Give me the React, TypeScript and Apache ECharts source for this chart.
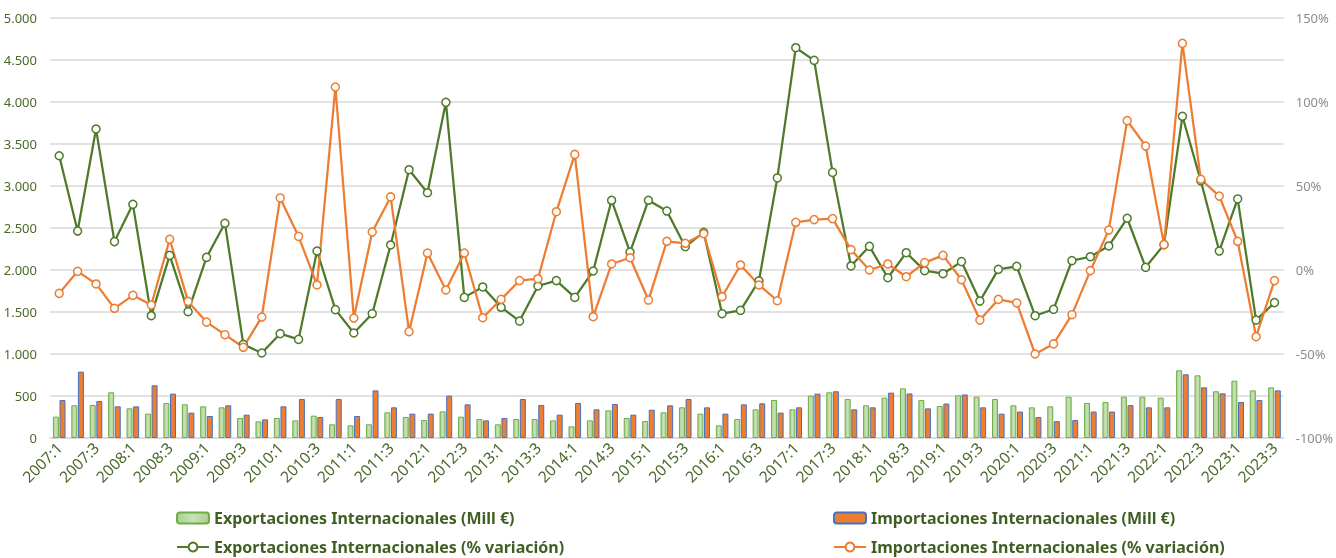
import React, { useEffect, useRef } from "react";
import * as echarts from "echarts";

const categories: string[] = [];
for (let y = 2007; y <= 2023; y++) {
  for (let q = 1; q <= 4; q++) {
    if (y === 2023 && q > 3) break;
    categories.push(`${y}:${q}`);
  }
}

const exportsMill = [
  254, 390, 393, 544, 353, 290, 417, 401, 377, 365,
  238, 198, 238, 210, 266, 163, 151, 163, 306, 250,
  214, 317, 254, 226, 163, 226, 226, 210, 139, 210,
  329, 238, 202, 306, 365, 290, 151, 226, 341, 452,
  341, 504, 544, 464, 389, 480, 591, 452, 381, 508,
  492, 464, 389, 365, 377, 492, 417, 429, 492, 492,
  480, 806, 746, 556, 682, 567, 603,
];

const importsMill = [
  452, 790, 440, 377, 377, 627, 528, 302, 262, 389,
  278, 222, 377, 464, 250, 464, 262, 567, 365, 290,
  290, 504, 401, 210, 238, 464, 393, 278, 417, 341,
  405, 278, 337, 389, 464, 365, 290, 401, 413, 302,
  365, 528, 556, 341, 365, 540, 530, 353, 410, 518,
  365, 290, 315, 250, 200, 214, 315, 315, 391, 365,
  365, 758, 603, 532, 429, 452, 567,
];

const exportsPct = [
  68.0, 23.2, 83.9, 16.9, 39.1, -27.2, 8.7, -24.8, 7.5, 27.8,
  -44.3, -49.4, -37.9, -41.3, 11.3, -23.6, -37.5, -26.0, 14.9, 59.7,
  46.0, 99.8, -16.3, -10.1, -22.2, -30.4, -9.5, -6.3, -16.3, -0.6,
  41.5, 10.7, 41.5, 35.1, 13.9, 22.4, -26.0, -24.0, -6.5, 54.8,
  132.3, 124.8, 58.1, 2.4, 14.1, -4.6, 10.3, -0.4, -2.2, 5.0,
  -18.5, 0.4, 2.2, -27.2, -23.4, 5.6, 7.9, 14.3, 30.8, 1.6,
  15.1, 91.5, 53.0, 11.3, 42.3, -29.8, -19.4,
];

const importsPct = [
  -13.9, -0.8, -8.3, -22.8, -15.1, -20.8, 18.3, -18.7, -31.0, -38.5,
  -46.0, -28.0, 42.9, 20.0, -8.9, 108.9, -28.6, 22.6, 43.5, -36.7,
  10.1, -11.9, 10.1, -28.4, -17.5, -6.3, -5.2, 34.7, 68.8, -27.8,
  3.6, 7.3, -17.9, 17.1, 15.9, 21.6, -15.9, 3.0, -8.9, -18.3,
  28.4, 30.0, 30.6, 12.1, 0.0, 3.6, -4.0, 4.4, 8.7, -5.8,
  -29.8, -17.5, -19.6, -50.0, -44.0, -26.6, -0.4, 23.8, 88.9, 73.8,
  15.1, 134.9, 54.0, 44.0, 17.1, -39.7, -6.3,
];

const seriesNames = [
  "Exportaciones Internacionales (Mill €)",
  "Importaciones Internacionales (Mill €)",
  "Exportaciones Internacionales (% variación)",
  "Importaciones Internacionales (% variación)",
];

const GREEN_TEXT = "#4a6a2a";
const LEGEND_TEXT = "#3f5f22";
const FONT = "'Noto Sans', 'DejaVu Sans', sans-serif";

export default function App() {
  const ref = useRef<HTMLDivElement>(null);
  useEffect(() => {
    if (!ref.current) return;
    const chart = echarts.init(ref.current, undefined, { renderer: "svg" });
    const legendText = {
      color: LEGEND_TEXT,
      fontSize: 16,
      fontWeight: "bold" as const,
      fontFamily: FONT,
    };
    const legendPositions = [
      { left: 176, top: 510 },
      { left: 833, top: 510 },
      { left: 176, top: 539 },
      { left: 833, top: 539 },
    ];
    chart.setOption({
      animation: false,
      textStyle: { fontFamily: FONT },
      grid: { left: 50, right: 44, top: 18, bottom: 120, containLabel: false },
      legend: legendPositions.map((p, i) => ({
        data: [seriesNames[i]],
        left: p.left,
        top: p.top,
        itemWidth: 32,
        itemHeight: 11,
        itemGap: 6,
        textStyle: legendText,
        padding: 0,
      })),
      xAxis: {
        type: "category",
        data: categories,
        axisTick: { show: false },
        axisLine: { show: true, lineStyle: { color: "#d9d9d9", width: 1.5 } },
        axisLabel: {
          interval: 1,
          rotate: 45,
          color: GREEN_TEXT,
          fontSize: 15.5,
          margin: 7,
          fontFamily: FONT,
        },
      },
      yAxis: [
        {
          type: "value",
          min: 0,
          max: 5000,
          interval: 500,
          axisLine: { show: false },
          axisTick: { show: false },
          splitLine: { lineStyle: { color: "#d9d9d9", width: 1.5 } },
          axisLabel: {
            color: GREEN_TEXT,
            fontSize: 13,
            margin: 13,
            fontFamily: FONT,
            formatter: (v: number) =>
              v.toString().replace(/\B(?=(\d{3})+(?!\d))/g, "."),
          },
        },
        {
          type: "value",
          min: -100,
          max: 150,
          interval: 50,
          axisLine: { show: false },
          axisTick: { show: false },
          splitLine: { show: false },
          axisLabel: {
            color: "#8c8c8c",
            fontSize: 13,
            margin: 12,
            fontFamily: FONT,
            formatter: (v: number) => `${v}%`,
          },
        },
      ],
      series: [
        {
          name: seriesNames[0],
          type: "bar",
          data: exportsMill,
          barWidth: 6,
          barGap: "10%",
          itemStyle: {
            color: new echarts.graphic.LinearGradient(0, 0, 1, 0, [
              { offset: 0, color: "#a9d18e" },
              { offset: 0.5, color: "#c9e2b8" },
              { offset: 1, color: "#a9d18e" },
            ]),
            borderColor: "#70ad47",
            borderWidth: 1,
          },
        },
        {
          name: seriesNames[1],
          type: "bar",
          data: importsMill,
          barWidth: 6,
          barGap: "10%",
          itemStyle: {
            color: "#ed7d31",
            borderColor: "#4472c4",
            borderWidth: 1,
          },
        },
        {
          name: seriesNames[2],
          type: "line",
          yAxisIndex: 1,
          data: exportsPct,
          symbol: "circle",
          symbolSize: 8,
          showAllSymbol: true,
          lineStyle: { color: "#4e7a2a", width: 2.25 },
          itemStyle: { color: "#ffffff", borderColor: "#4e7a2a", borderWidth: 1.5 },
        },
        {
          name: seriesNames[3],
          type: "line",
          yAxisIndex: 1,
          data: importsPct,
          symbol: "circle",
          symbolSize: 8,
          showAllSymbol: true,
          lineStyle: { color: "#ed7d31", width: 2.25 },
          itemStyle: { color: "#ffffff", borderColor: "#ed7d31", borderWidth: 1.5 },
        },
      ],
    });
    return () => chart.dispose();
  }, []);
  return (
    <div
      ref={ref}
      style={{ position: "fixed", left: 0, top: 0, width: 1336, height: 558 }}
    />
  );
}
